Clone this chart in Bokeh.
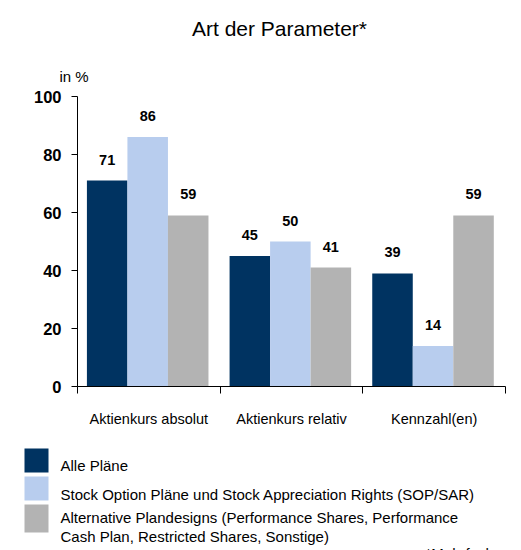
from bokeh.plotting import figure
from bokeh.models import (ColumnDataSource, LabelSet, Label, BoxAnnotation, FixedTicker, Range1d,
                          LinearAxis)
from bokeh.core.properties import value
from bokeh.embed import file_html
from bokeh.resources import INLINE

# ---- data ----
categories = ["Aktienkurs absolut", "Aktienkurs relativ", "Kennzahl(en)"]
alle_plaene = [71, 45, 39]
sop_sar = [86, 50, 14]
alternative = [59, 41, 59]
series_names = [
    "Alle Pläne",
    "Stock Option Pläne und Stock Appreciation Rights (SOP/SAR)",
    "Alternative Plandesigns (Performance Shares, Performance",
]
series_name_line2 = "Cash Plan, Restricted Shares, Sonstige)"
y_ticks = [0, 20, 40, 60, 80, 100]
title_text = "Art der Parameter*"
unit_text = "in %"
footnote = "*Mehrfachnennungen"

colors = ["#003361", "#B8CDEE", "#B3B3B3"]
FONT = "Liberation Sans"
W, H = 521, 550

# plot area placement (page pixels)
AX_L, AX_R, AX_T, AX_B = 77, 505, 96, 386
n = len(categories)
ymax = y_ticks[-1]
ppx = (AX_R - AX_L) / n
ppy = (AX_B - AX_T) / ymax
x_range = Range1d(-AX_L / ppx, n + (W - AX_R) / ppx)
y_range = Range1d(-(H - AX_B) / ppy, ymax + AX_T / ppy)

p = figure(width=W, height=H, x_range=x_range, y_range=y_range,
           output_backend="svg", toolbar_location=None,
           x_axis_location=None, y_axis_location=None, min_border=0)
p.outline_line_color = None
p.grid.visible = False
p.background_fill_color = "white"
p.border_fill_color = "white"

ya = LinearAxis(fixed_location=0, bounds=(0, ymax), ticker=FixedTicker(ticks=y_ticks))
ya.major_tick_out = 6
ya.major_tick_in = 0
ya.minor_tick_line_color = None
ya.axis_line_color = "black"
ya.major_tick_line_color = "black"
ya.major_label_text_font = FONT
ya.major_label_text_font_size = "16.5px"
ya.major_label_text_font_style = "bold"
ya.major_label_text_color = "black"
ya.major_label_standoff = 10
p.add_layout(ya, "left")

cat_x = [i + 0.5 for i in range(n)]
xa = LinearAxis(fixed_location=0, bounds=(0, n),
                ticker=FixedTicker(ticks=cat_x, minor_ticks=list(range(n + 1))))
xa.major_tick_line_color = None
xa.major_tick_out = 0
xa.major_tick_in = 0
xa.minor_tick_out = 7
xa.minor_tick_in = 0
xa.minor_tick_line_color = "black"
xa.axis_line_color = "black"
xa.major_label_overrides = {cx: c for cx, c in zip(cat_x, categories)}
xa.major_label_text_font = FONT
xa.major_label_text_font_size = "14.5px"
xa.major_label_text_color = "black"
xa.major_label_standoff = 17
p.add_layout(xa, "below")

offsets = [-0.292, -0.008, 0.276]
bar_w = 0.284
series = [alle_plaene, sop_sar, alternative]
for vals, off, col in zip(series, offsets, colors):
    src = ColumnDataSource(dict(x=[c + off for c in cat_x], top=vals, lbl=[str(v) for v in vals]))
    p.vbar(x="x", top="top", width=bar_w, source=src, fill_color=col, line_color=None)
    p.add_layout(LabelSet(x="x", y="top", text="lbl", source=src, y_offset=16,
                          text_align="center", text_baseline="alphabetic",
                          text_font=value(FONT), text_font_size="14.5px", text_font_style="bold",
                          text_color="black"))


def lab(text, x, y_page, size, align="left", style="normal"):
    # screen units: x from left, y measured up from the bottom of the canvas
    p.add_layout(Label(x=x, y=H - y_page, x_units="screen", y_units="screen", text=text,
                       text_align=align, text_baseline="alphabetic",
                       text_font=FONT, text_font_size=size, text_font_style=style,
                       text_color="black"))


lab(title_text, 279, 28, "21px", align="center")
lab(unit_text, 59, 76, "15px")

# legend
sw_top = [448, 476, 504]
sw_bottom = [472, 500, 532]
text_base = [465, 494, 517]
for name, col, t, b, ty in zip(series_names, colors, sw_top, sw_bottom, text_base):
    p.add_layout(BoxAnnotation(left=24, right=48, top=H - t, bottom=H - b,
                               left_units="screen", right_units="screen",
                               top_units="screen", bottom_units="screen",
                               fill_color=col, fill_alpha=1, line_color=None))
    lab(name, 60, ty, "15px")
lab(series_name_line2, 60, 536, "15px")
lab(footnote, 425, 553, "15px")

open("out.html", "w").write(file_html(p, INLINE))
